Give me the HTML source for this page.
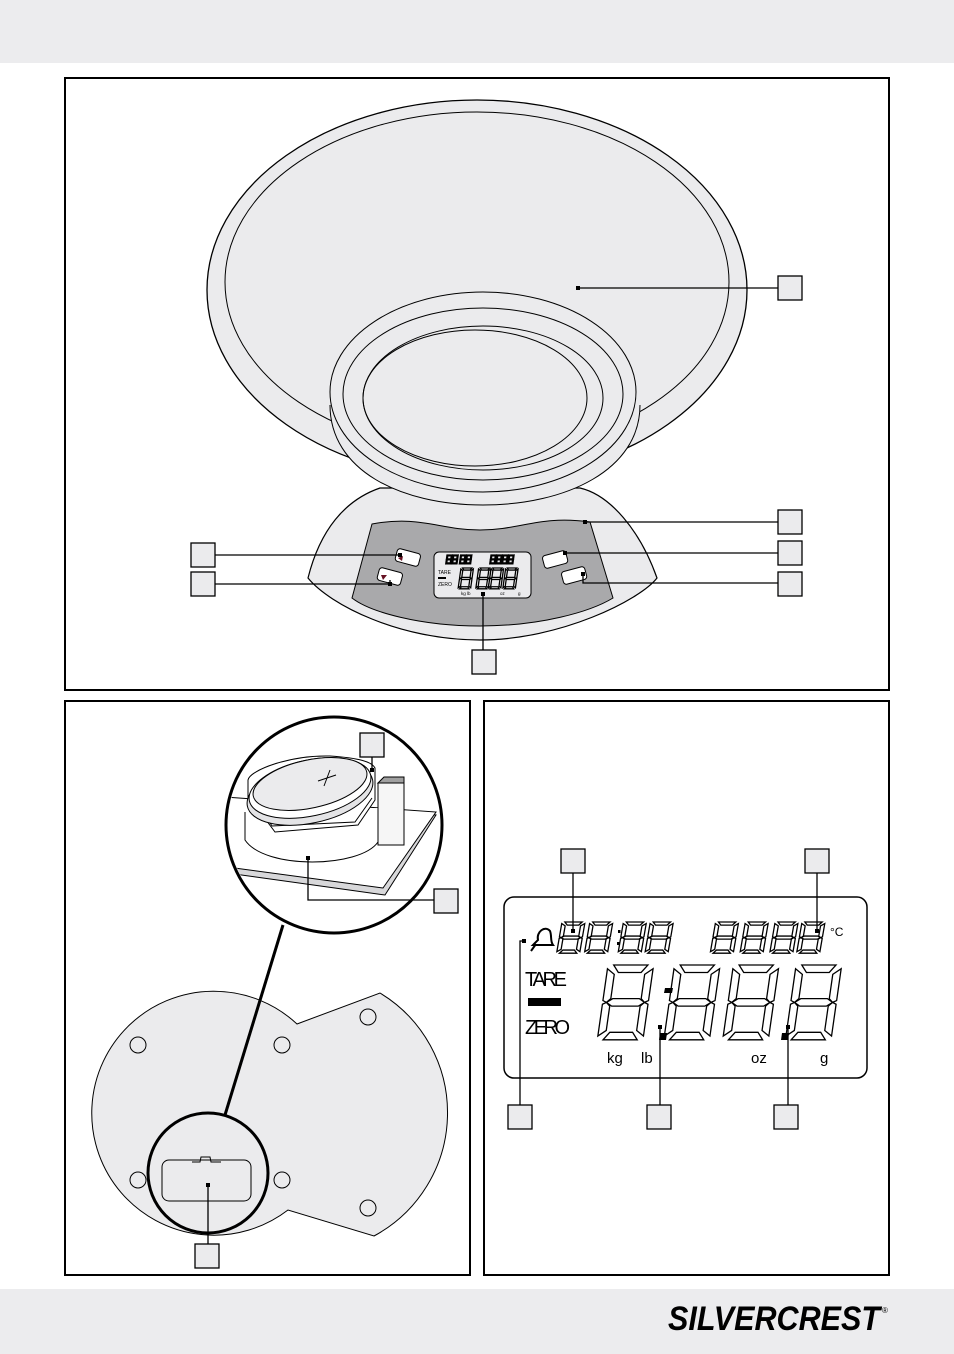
<!DOCTYPE html>
<html><head><meta charset="utf-8"><style>
html,body{margin:0;padding:0;background:#fff}
svg{display:block}
text{font-family:"Liberation Sans",sans-serif}
</style></head><body>
<svg width="954" height="1354" viewBox="0 0 954 1354" xmlns="http://www.w3.org/2000/svg">
<defs>
<g id="d">
<g transform="skewX(-8)" fill="#fff" stroke="#000" stroke-width="1.3">
<polygon points="3,0 21,0 18,4 6,4" vector-effect="non-scaling-stroke"/>
<polygon points="24,2 24,19 22,20 20,18 20,5" vector-effect="non-scaling-stroke"/>
<polygon points="24,21 24,38 20,35 20,22 22,20" vector-effect="non-scaling-stroke"/>
<polygon points="3,40 21,40 18,36 6,36" vector-effect="non-scaling-stroke"/>
<polygon points="0,21 2,20 4,22 4,35 0,38" vector-effect="non-scaling-stroke"/>
<polygon points="0,2 4,5 4,18 2,20 0,19" vector-effect="non-scaling-stroke"/>
<polygon points="2,20 5,18 19,18 22,20 19,22 5,22" vector-effect="non-scaling-stroke"/>
</g>
</g>
<rect id="lb" width="24" height="24" fill="#ebebed" stroke="#000" stroke-width="1.3"/>
</defs>
<rect x="0" y="0" width="954" height="63" fill="#ececee"/>
<rect x="0" y="1289" width="954" height="65" fill="#ececee"/>

<rect x="65" y="78" width="824" height="612" fill="#fff" stroke="#000" stroke-width="2"/>
<path d="M308,578 C320,530 345,500 380,488 L580,488 C610,495 640,530 657,578 C640,600 560,640 480,640 C400,640 330,605 308,578 Z" fill="#ebebed" stroke="#000" stroke-width="1.2"/>
<path d="M352,598 L372,524 C420,515 440,530 480,530 C520,530 540,515 590,522 L613,598 C590,612 540,626 480,626 C420,626 370,612 352,598 Z" fill="#a9a9ab" stroke="#000" stroke-width="1"/>
<ellipse cx="477" cy="290" rx="270" ry="190" fill="#ebebed" stroke="#000" stroke-width="1.3"/>
<ellipse cx="477" cy="282" rx="252" ry="170" fill="none" stroke="#000" stroke-width="1"/>
<path d="M330,405 C330,470 400,505 483,505 C566,505 640,470 640,405" fill="#ebebed" stroke="#000" stroke-width="1"/>
<ellipse cx="483" cy="392" rx="153" ry="100" fill="#ebebed" stroke="#000" stroke-width="1"/>
<ellipse cx="483" cy="394" rx="140" ry="86" fill="none" stroke="#000" stroke-width="1"/>
<ellipse cx="483" cy="398" rx="120" ry="72" fill="none" stroke="#000" stroke-width="1"/>
<ellipse cx="475" cy="398" rx="112" ry="68" fill="none" stroke="#000" stroke-width="1"/>
<g fill="#fff" stroke="#000" stroke-width="1">
<rect x="396" y="551" width="24" height="13" rx="3" transform="rotate(15 408 557)"/>
<rect x="378" y="570" width="24" height="13" rx="3" transform="rotate(15 390 576)"/>
<rect x="543" y="553" width="24" height="13" rx="3" transform="rotate(-15 555 559)"/>
<rect x="562" y="569" width="24" height="13" rx="3" transform="rotate(-15 574 575)"/>
</g>
<polygon points="398,558 403,556 402,561" fill="#612"/>
<polygon points="381,575 387,575 383,580" fill="#612"/>
<rect x="434" y="552" width="97" height="46" rx="5" fill="#ebebed" stroke="#000" stroke-width="1"/>
<g transform="translate(447,555) scale(0.22)"><use href="#d"/><use href="#d" x="27"/><use href="#d" x="62"/><use href="#d" x="89"/><use href="#d" x="200"/><use href="#d" x="227"/><use href="#d" x="254"/><use href="#d" x="281"/></g>
<g transform="translate(461,568) scale(0.52)"><use href="#d"/><use href="#d" x="34"/><use href="#d" x="58"/><use href="#d" x="86"/></g>
<text x="438" y="574" font-size="5">TARE</text><rect x="438" y="577" width="8" height="2"/><text x="438" y="586" font-size="5">ZERO</text>
<text x="461" y="595" font-size="4.5">kg  lb</text><text x="500" y="595" font-size="4.5">oz</text><text x="518" y="595" font-size="4.5">g</text>
<g stroke="#000" stroke-width="1.3" fill="none">
<line x1="578" y1="288" x2="778" y2="288"/>
<line x1="585" y1="522" x2="778" y2="522"/>
<line x1="565" y1="553" x2="778" y2="553"/>
<polyline points="583,574 583,583 778,583"/>
<line x1="215" y1="555" x2="400" y2="555"/>
<polyline points="215,584 390,584 390,580"/>
<line x1="483" y1="594" x2="483" y2="650"/>
</g>
<g fill="#000"><rect x="576" y="286" width="4" height="4"/><rect x="583" y="520" width="4" height="4"/><rect x="563" y="551" width="4" height="4"/><rect x="581" y="572" width="4" height="4"/><rect x="398" y="553" width="4" height="4"/><rect x="388" y="582" width="4" height="4"/><rect x="481" y="592" width="4" height="4"/></g>
<use href="#lb" x="778" y="276"/><use href="#lb" x="778" y="510"/><use href="#lb" x="778" y="541"/><use href="#lb" x="778" y="572"/>
<use href="#lb" x="191" y="543"/><use href="#lb" x="191" y="572"/><use href="#lb" x="472" y="650"/>

<rect x="65" y="701" width="405" height="574" fill="#fff" stroke="#000" stroke-width="2"/>
<path d="M297,1024 L380,993 A140,140 0 0 1 374,1236 L288,1210 A122,122 0 1 1 297,1024 Z" fill="#ebebed" stroke="#000" stroke-width="1"/>
<g fill="none" stroke="#000" stroke-width="1"><circle cx="138" cy="1045" r="8"/><circle cx="282" cy="1045" r="8"/><circle cx="368" cy="1017" r="8"/><circle cx="138" cy="1180" r="8"/><circle cx="282" cy="1180" r="8"/><circle cx="368" cy="1208" r="8"/></g>
<circle cx="208" cy="1173" r="60" fill="none" stroke="#000" stroke-width="3"/>
<rect x="162" y="1160" width="89" height="41" rx="7" fill="none" stroke="#000" stroke-width="1"/>
<path d="M192,1162 L200,1162 L201,1157 L210,1157 L211,1162 L221,1162" fill="none" stroke="#000" stroke-width="1"/>
<line x1="283" y1="925" x2="225" y2="1115" stroke="#000" stroke-width="3"/>
<line x1="208" y1="1185" x2="208" y2="1244" stroke="#000" stroke-width="1.3"/><rect x="206" y="1183" width="4" height="4"/>
<use href="#lb" x="195" y="1244"/>
<circle cx="334" cy="825" r="108" fill="#fff" stroke="#000" stroke-width="3"/>
<clipPath id="cc"><circle cx="334" cy="825" r="106"/></clipPath>
<g clip-path="url(#cc)" stroke="#000" stroke-width="1">
<polygon points="225,802 436,815 385,895 220,872" fill="#d8d8da"/>
<polygon points="225,797 436,812 383,888 220,866" fill="#fff"/>
<path d="M245,812 L245,840 C265,870 360,868 378,842 L378,808" fill="#fff"/>
<rect x="378" y="783" width="26" height="62" fill="#f6f6f6"/>
<polygon points="378,783 384,777 404,777 404,783" fill="#a0a0a0"/>
<path d="M248,780 C250,770 290,755 330,756 C360,758 372,762 375,768 L375,800 L358,825 L275,832 L260,812 L248,800 Z" fill="#fff"/>
<path d="M262,810 L272,826 L355,822 L372,798" fill="none"/>
<ellipse cx="310" cy="793" rx="64" ry="30" transform="rotate(-12 310 793)" fill="#e4e4e6"/>
<ellipse cx="310" cy="788" rx="62" ry="28" transform="rotate(-12 310 788)" fill="#fff"/>
<ellipse cx="310" cy="784" rx="58" ry="24" transform="rotate(-12 310 784)" fill="#ebebed"/>
<line x1="318" y1="781" x2="336" y2="775"/><line x1="330" y1="770" x2="324" y2="786"/>
</g>
<line x1="372" y1="770" x2="372" y2="745" stroke="#000" stroke-width="1.3"/><rect x="370" y="768" width="4" height="4"/>
<polyline points="308,858 308,900 434,900" fill="none" stroke="#000" stroke-width="1.3"/><rect x="306" y="856" width="4" height="4"/>
<use href="#lb" x="360" y="733"/><use href="#lb" x="434" y="889"/>

<rect x="484" y="701" width="405" height="574" fill="#fff" stroke="#000" stroke-width="2"/>
<rect x="504" y="897" width="363" height="181" rx="10" fill="#fff" stroke="#000" stroke-width="1.5"/>
<g transform="translate(562,922) scale(0.96,0.78)"><use href="#d"/><use href="#d" x="29"/><use href="#d" x="64"/><use href="#d" x="92"/><use href="#d" x="160"/><use href="#d" x="191"/><use href="#d" x="222"/><use href="#d" x="250"/></g>
<rect x="618" y="930" width="2.5" height="3"/><rect x="617" y="942" width="2.5" height="3"/>
<g transform="translate(608,965) scale(1.9,1.87)"><use href="#d"/><use href="#d" x="35"/><use href="#d" x="66"/><use href="#d" x="99"/></g>
<polygon points="665,988 673,988 672,993 664,993" fill="#000"/>
<polygon points="660,1033 667,1033 666,1040 659,1040" fill="#000"/>
<polygon points="782,1033 789,1033 788,1040 781,1040" fill="#000"/>
<text x="830" y="936" font-size="12">°C</text>
<text x="525" y="986" font-size="20" textLength="42">TARE</text>
<rect x="528" y="998" width="33" height="8" fill="#000"/>
<text x="525" y="1034" font-size="20" textLength="45">ZERO</text>
<text x="607" y="1063" font-size="15">kg</text><text x="641" y="1063" font-size="15">lb</text><text x="751" y="1063" font-size="15">oz</text><text x="820" y="1063" font-size="15">g</text>
<path d="M533,945 L538,940 C536,932 545,925 550,931 C552,936 550,941 553,945 Z" fill="#fff" stroke="#000" stroke-width="2"/>
<path d="M536,944 L531,951" stroke="#000" stroke-width="2"/>
<g stroke="#000" stroke-width="1.3" fill="none">
<line x1="573" y1="873" x2="573" y2="931"/>
<line x1="817" y1="873" x2="817" y2="931"/>
<polyline points="524,941 520,941 520,1105"/>
<line x1="660" y1="1027" x2="660" y2="1105"/>
<line x1="788" y1="1027" x2="788" y2="1105"/>
</g>
<rect x="571" y="929" width="4" height="4"/><rect x="815" y="929" width="4" height="4"/><rect x="522" y="939" width="4" height="4"/><rect x="658" y="1025" width="4" height="4"/><rect x="786" y="1025" width="4" height="4"/>
<use href="#lb" x="561" y="849"/><use href="#lb" x="805" y="849"/><use href="#lb" x="508" y="1105"/><use href="#lb" x="647" y="1105"/><use href="#lb" x="774" y="1105"/>

<text x="668" y="1330" font-size="34" font-weight="bold" font-style="italic" textLength="212" lengthAdjust="spacingAndGlyphs">SILVERCREST</text>
<text x="882" y="1313" font-size="8">®</text>
</svg>
</body></html>
